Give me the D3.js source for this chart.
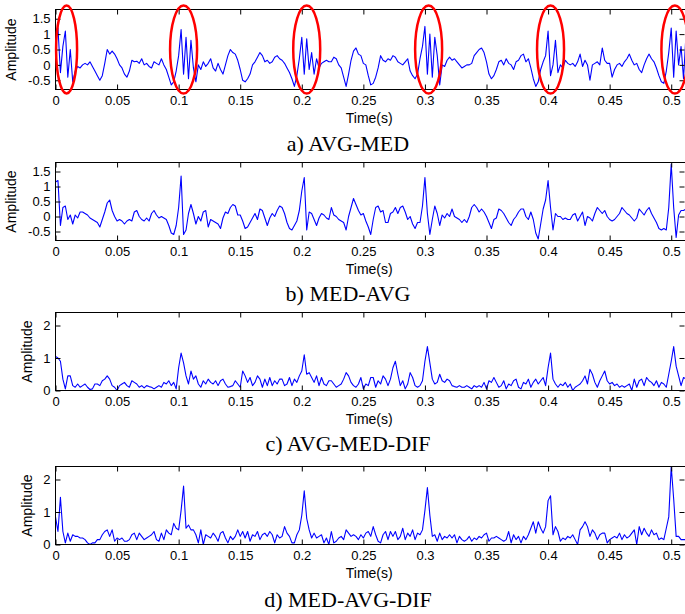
<!DOCTYPE html>
<html><head><meta charset="utf-8">
<script src="https://cdn.jsdelivr.net/npm/d3@7"></script>
<style>body{margin:0;background:#fff}svg{display:block}</style>
</head><body><svg id="c" width="685" height="614"></svg>
<script>
const sampleStep = 0.002; // s between samples
const xTicks = [0,0.05,0.1,0.15,0.2,0.25,0.3,0.35,0.4,0.45,0.5];
const xTickLabels = ["0","0.05","0.1","0.15","0.2","0.25","0.3","0.35","0.4","0.45","0.5"];
const yTicksAB = [-0.5,0,0.5,1,1.5];
const yTicksCD = [0,1,2];
const captions = ["a) AVG-MED","b) MED-AVG","c) AVG-MED-DIF","d) MED-AVG-DIF"];
const ellipseTimes = [0.009,0.104,0.204,0.303,0.402,0.503];

const avgMed = [
 1.1,1.2,-0.25,0.6,1.1,-0.4,0.5,-0.55,-0.2,-0.05,-0.1,0.0,0.05,0.0,0.1,-0.05,-0.2,-0.35,-0.5,-0.35,0.05,0.5,0.35,0.45,0.35,
 0.2,0.0,-0.1,-0.3,-0.4,-0.2,0.15,0.1,0.12,0.05,0.2,0.0,0.05,-0.05,-0.1,0.1,0.05,0.0,0.2,0.0,-0.15,-0.4,-0.65,-0.55,-0.2,
 0.3,1.15,-0.3,0.9,-0.45,0.8,-0.1,-0.55,0.0,-0.15,0.1,-0.05,0.05,0.2,-0.1,-0.2,0.05,-0.15,-0.3,0.0,0.3,0.5,0.4,0.35,0.15,
 -0.15,-0.5,-0.55,-0.45,-0.3,0.0,0.1,0.25,0.4,0.3,0.1,0.15,0.05,0.1,0.25,0.3,0.2,0.15,0.05,-0.1,-0.25,-0.45,-0.7,-0.35,0.2,
 0.9,-0.3,0.85,-0.15,0.4,-0.3,0.2,-0.1,0.05,0.1,0.15,0.1,0.1,0.25,0.2,0.0,-0.1,-0.4,-0.7,-0.3,0.15,0.45,0.55,0.35,0.3,
 0.05,0.0,-0.35,-0.65,-0.6,-0.4,-0.1,0.3,0.15,0.1,0.2,0.15,0.3,0.25,0.1,0.05,0.0,0.1,0.2,-0.2,-0.35,-0.45,-0.3,0.2,0.6,
 1.25,-0.3,1.0,-0.4,0.9,0.3,-0.65,0.0,-0.05,0.15,0.25,0.15,0.2,0.1,0.0,-0.1,-0.05,0.0,0.0,0.05,0.3,0.4,0.5,0.55,0.4,
 0.1,-0.3,-0.45,-0.35,-0.15,0.1,0.15,0.0,0.2,0.05,0.0,-0.15,0.1,0.15,0.3,0.35,0.1,0.2,-0.1,-0.45,-0.7,-0.55,-0.15,0.1,0.3,
 1.1,-0.35,0.0,0.8,-0.25,0.0,-0.1,0.15,0.05,0.0,0.05,-0.05,0.1,0.35,-0.05,0.15,0.0,-0.5,0.0,0.05,0.1,0.0,0.55,0.15,0.05,
 0.05,-0.4,-0.15,0.0,0.05,-0.05,0.1,0.2,0.35,0.15,0.0,0.05,-0.15,-0.25,0.0,0.2,0.35,0.2,0.1,-0.1,-0.35,-0.55,-0.6,-0.2,0.4,
 1.2,-0.4,1.1,0.0,0.6,-0.45,1.0
];
const medAvg = [
 1.15,1.2,-0.3,0.3,0.35,-0.1,0.05,-0.25,0.05,-0.05,0.15,0.15,0.1,0.05,-0.05,-0.1,-0.15,-0.2,-0.35,-0.1,0.15,0.45,0.55,0.2,0.0,
 -0.15,-0.1,-0.15,-0.25,-0.15,-0.1,-0.15,0.15,0.2,0.0,-0.1,-0.15,-0.05,-0.15,0.1,0.2,0.05,-0.05,0.0,-0.05,-0.1,-0.3,-0.55,-0.6,-0.3,
 0.3,1.35,-0.6,-0.45,0.1,0.4,0.1,-0.25,0.0,-0.15,0.15,0.2,-0.35,-0.1,-0.15,-0.2,-0.25,-0.4,-0.05,0.15,0.1,0.3,0.4,0.35,0.05,
 0.05,-0.15,-0.4,-0.35,-0.2,-0.05,0.1,-0.1,0.25,0.2,-0.05,-0.3,-0.05,0.1,0.0,0.2,0.35,0.3,0.1,-0.2,-0.4,-0.45,-0.3,-0.15,0.2,
 0.85,1.3,-0.45,0.15,0.1,-0.1,-0.3,-0.05,0.1,0.05,-0.05,-0.1,0.3,0.05,0.0,-0.1,-0.15,-0.2,-0.45,0.0,0.3,0.6,0.4,0.2,0.05,
 0.1,-0.15,-0.35,-0.6,-0.1,0.3,0.35,0.15,0.2,-0.2,-0.2,0.1,0.15,0.3,0.1,0.3,0.35,0.15,-0.1,0.0,-0.25,-0.4,-0.2,-0.2,0.35,
 1.3,0.1,-0.6,-0.1,0.35,0.1,-0.3,0.05,-0.05,0.1,0.0,0.25,0.0,-0.05,-0.1,-0.2,-0.1,-0.2,0.0,0.3,0.4,0.3,0.15,0.25,0.15,
 0.0,-0.2,-0.4,-0.1,-0.05,0.25,0.2,0.1,-0.05,-0.2,-0.3,-0.1,0.0,0.15,0.25,0.25,0.0,-0.1,0.15,-0.1,-0.55,-0.75,-0.25,0.25,0.55,
 1.2,0.3,-0.45,0.1,0.0,0.0,-0.1,-0.05,-0.1,-0.1,0.05,0.1,-0.15,0.0,0.15,-0.3,0.0,-0.05,-0.15,0.1,0.3,0.2,0.1,0.2,0.0,
 -0.1,-0.15,-0.1,0.0,0.1,0.3,0.2,0.1,0.05,-0.05,-0.15,-0.05,0.25,0.15,0.05,0.2,0.3,0.1,-0.05,-0.2,-0.4,-0.45,-0.4,-0.45,0.3,
 1.75,0.3,-0.7,0.05,0.2,0.2,0.25
];
const avgMedDif = [
 1.05,1.0,0.9,0.35,0.05,0.45,0.45,0.15,0.1,0.2,0.1,0.15,0.2,0.1,0.03,0.05,0.2,0.2,0.15,0.3,0.35,0.45,0.35,0.15,0.1,
 0.0,0.15,0.2,0.25,0.15,0.1,0.3,0.25,0.2,0.1,0.15,0.08,0.15,0.12,0.1,0.05,0.1,0.15,0.1,0.25,0.2,0.3,0.15,0.25,0.05,
 0.7,1.15,0.85,0.45,0.2,0.6,0.35,0.45,0.2,0.1,0.3,0.2,0.35,0.25,0.2,0.3,0.15,0.3,0.35,0.2,0.1,0.12,0.15,0.3,0.2,
 0.1,0.6,0.45,0.25,0.4,0.15,0.25,0.45,0.35,0.1,0.35,0.15,0.4,0.15,0.3,0.2,0.35,0.35,0.15,0.2,0.4,0.15,0.35,0.25,0.45,
 0.6,1.1,0.5,0.55,0.4,0.25,0.45,0.15,0.4,0.2,0.15,0.3,0.3,0.2,0.1,0.15,0.2,0.35,0.55,0.45,0.25,0.15,0.1,0.2,0.4,
 0.05,0.2,0.15,0.4,0.4,0.1,0.3,0.2,0.45,0.35,0.15,0.35,0.7,0.9,0.5,0.15,0.3,0.05,0.2,0.55,0.4,0.15,0.1,0.15,0.3,
 0.9,1.35,0.85,0.35,0.2,0.25,0.5,0.3,0.25,0.35,0.3,0.15,0.12,0.1,0.15,0.1,0.1,0.15,0.1,0.05,0.15,0.1,0.15,0.1,0.25,
 0.05,0.3,0.25,0.4,0.25,0.1,0.15,0.3,0.05,0.2,0.15,0.3,0.35,0.1,0.05,0.25,0.2,0.35,0.1,0.25,0.35,0.2,0.3,0.4,0.15,
 0.7,1.15,0.35,0.2,0.1,0.2,0.15,0.25,0.1,0.2,0.0,0.1,0.15,0.2,0.3,0.45,0.2,0.65,0.5,0.25,0.1,0.3,0.45,0.6,0.3,
 0.2,0.25,0.15,0.2,0.1,0.15,0.1,0.15,0.2,0.0,0.35,0.1,0.3,0.35,0.15,0.4,0.3,0.25,0.15,0.3,0.1,0.25,0.2,0.1,0.5,
 0.9,1.35,0.75,0.45,0.15,0.4,0.35
];
const medAvgDif = [
 0.85,0.4,1.45,0.4,0.05,0.35,0.1,0.3,0.25,0.25,0.2,0.2,0.15,0.05,0.0,0.05,0.05,0.15,0.15,0.3,0.4,0.45,0.25,0.45,0.1,
 0.2,0.15,0.2,0.1,0.1,0.15,0.3,0.35,0.15,0.35,0.25,0.15,0.2,0.25,0.3,0.4,0.15,0.1,0.35,0.15,0.45,0.35,0.3,0.65,0.5,
 0.45,1.05,1.8,0.5,0.6,0.45,0.45,0.3,0.05,0.45,0.0,0.3,0.25,0.2,0.35,0.25,0.1,0.35,0.4,0.2,0.05,0.25,0.15,0.25,0.45,
 0.25,0.4,0.2,0.4,0.1,0.3,0.25,0.4,0.15,0.3,0.35,0.25,0.4,0.3,0.05,0.3,0.2,0.25,0.55,0.35,0.25,0.05,0.05,0.3,0.45,
 0.9,1.65,0.8,0.45,0.2,0.35,0.2,0.25,0.3,0.05,0.2,0.0,0.4,0.05,0.1,0.2,0.25,0.15,0.45,0.35,0.25,0.3,0.25,0.15,0.3,
 0.2,0.35,0.4,0.25,0.55,0.3,0.1,0.05,0.3,0.4,0.15,0.4,0.25,0.4,0.15,0.25,0.5,0.15,0.35,0.25,0.45,0.15,0.35,0.3,0.45,
 1.05,1.75,0.9,0.25,0.3,0.1,0.35,0.15,0.25,0.2,0.3,0.2,0.3,0.05,0.25,0.15,0.1,0.15,0.25,0.1,0.2,0.15,0.25,0.2,0.3,
 0.35,0.1,0.2,0.2,0.25,0.2,0.15,0.1,0.15,0.4,0.05,0.3,0.15,0.25,0.05,0.25,0.15,0.3,0.5,0.7,0.35,0.7,0.5,0.35,0.55,
 1.35,1.5,0.3,0.55,0.4,0.1,0.2,0.15,0.25,0.2,0.3,0.15,0.0,0.45,0.55,0.7,0.55,0.25,0.45,0.35,0.15,0.3,0.35,0.35,0.05,
 0.15,0.2,0.25,0.2,0.35,0.15,0.3,0.2,0.25,0.35,0.45,0.0,0.55,0.3,0.5,0.35,0.25,0.45,0.3,0.35,0.15,0.2,0.15,0.5,0.85,
 2.4,1.4,0.25,0.25,0.15,0.15,0.15
];

const svg = d3.select("#c");
const X0 = 55.5, X1 = 686;
const x = d3.scaleLinear().domain([0, 0.512]).range([X0, X1]);
const sans = "'Liberation Sans', Arial, Helvetica, sans-serif";
const serif = "'Liberation Serif', 'Times New Roman', Times, serif";

const panels = [
  {data: avgMed,    top: 9.5,   bottom: 89.5,  dom: [-0.8, 1.8], ticks: yTicksAB, labelX: 16, capY: 151, ell: true},
  {data: medAvg,    top: 162.5, bottom: 240.5, dom: [-0.8, 1.8], ticks: yTicksAB, labelX: 16, capY: 301},
  {data: avgMedDif, top: 312.5, bottom: 390.5, dom: [0, 2.4],    ticks: yTicksCD, labelX: 32, capY: 451},
  {data: medAvgDif, top: 466.5, bottom: 544.5, dom: [0, 2.4],    ticks: yTicksCD, labelX: 32, capY: 607}
];

panels.forEach((p, k) => {
  const y = d3.scaleLinear().domain(p.dom).range([p.bottom, p.top]);
  const g = svg.append("g");
  const cid = "clip" + k;
  svg.append("clipPath").attr("id", cid).append("rect")
    .attr("x", X0).attr("y", p.top).attr("width", X1 - X0).attr("height", p.bottom - p.top);

  const line = d3.line().x((d, i) => x(i * sampleStep)).y(d => y(d));
  g.append("path").datum(p.data).attr("clip-path", `url(#${cid})`)
    .attr("d", line).attr("fill", "none").attr("stroke", "#0000ff")
    .attr("stroke-width", 1.1).attr("stroke-linejoin", "round");

  const bottom = g.append("g").attr("transform", `translate(0,${p.bottom})`)
    .call(d3.axisBottom(x).tickValues(xTicks).tickFormat((d, i) => xTickLabels[i]).tickSize(-5).tickPadding(6));
  const top = g.append("g").attr("transform", `translate(0,${p.top})`)
    .call(d3.axisTop(x).tickValues(xTicks).tickFormat("").tickSize(-5));
  const left = g.append("g").attr("transform", `translate(${X0},0)`)
    .call(d3.axisLeft(y).tickValues(p.ticks).tickFormat(d => String(d)).tickSize(-5).tickPadding(5));
  const right = g.append("g").attr("transform", `translate(${X1 - 1.5},0)`)
    .call(d3.axisRight(y).tickValues(p.ticks).tickFormat("").tickSize(-5));
  [bottom, top, left, right].forEach(a => {
    a.select(".domain").remove();
    a.selectAll("line").attr("stroke", "#000").attr("stroke-width", 1);
    a.selectAll("text").attr("font-family", sans).attr("font-size", 13).attr("fill", "#000");
  });
  g.append("rect").attr("x", X0).attr("y", p.top).attr("width", X1 - X0).attr("height", p.bottom - p.top)
    .attr("fill", "none").attr("stroke", "#000").attr("stroke-width", 1);

  g.append("text").attr("x", (X0 + X1) / 2 - 1.5).attr("y", p.bottom + 33)
    .attr("text-anchor", "middle").attr("font-family", sans).attr("font-size", 14).text("Time(s)");
  g.append("text").attr("transform", `translate(${p.labelX},${(p.top + p.bottom) / 2}) rotate(-90)`)
    .attr("text-anchor", "middle").attr("font-family", sans).attr("font-size", 14).text("Amplitude");
  g.append("text").attr("x", 348).attr("y", p.capY).attr("text-anchor", "middle")
    .attr("font-family", serif).attr("font-size", 22).text(captions[k]);

  if (p.ell) {
    ellipseTimes.forEach((t, i) => {
      g.append("ellipse").attr("cx", x(t)).attr("cy", y(0.5))
        .attr("rx", i === 0 ? 10.5 : 13.5).attr("ry", y(-0.93) - y(0.5))
        .attr("fill", "none").attr("stroke", "#ff0000").attr("stroke-width", 2.5);
    });
  }
});
</script>
</body></html>
